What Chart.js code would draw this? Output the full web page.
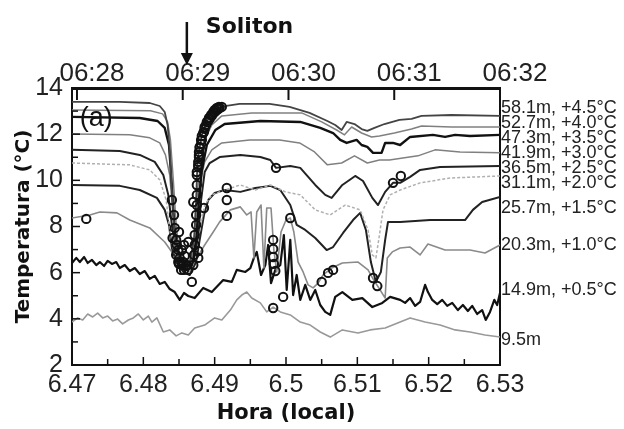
<!DOCTYPE html>
<html><head><meta charset="utf-8">
<script src="https://cdn.jsdelivr.net/npm/chart.js@4.4.1/dist/chart.umd.min.js"></script>
<style>html,body{margin:0;padding:0;background:#fff}canvas{display:block}</style>
</head><body>
<canvas id="c" width="624" height="429"></canvas>
<script>
// ---- axis ticks ----
const xTickVals = [6.47,6.475,6.48,6.485,6.49,6.495,6.5,6.505,6.51,6.515,6.52,6.525,6.53];
const xTickLabels = ['6.47','','6.48','','6.49','','6.5','','6.51','','6.52','','6.53'];
const yTickVals = [2,3,4,5,6,7,8,9,10,11,12,13,14];
const yTickLabels = ['2','','4','','6','','8','','10','','12','','14'];
const topTickVals = [0,1,2,3,4];               // minutes after 06:28
const topTickLabels = ['06:28','06:29','06:30','06:31','06:32'];

// ---- series names (right side) and the temperature they label ----
const seriesNames = ['58.1m, +4.5°C','52.7m, +4.0°C','47.3m, +3.5°C','41.9m, +3.0°C','36.5m, +2.5°C','31.1m, +2.0°C','25.7m, +1.5°C','20.3m, +1.0°C','14.9m, +0.5°C','9.5m'];
const labelTemps = [13.14,12.49,11.84,11.19,10.54,9.89,8.80,7.20,5.25,3.08];

// ---- series data (hour, °C incl. offset) ----
const t58 = [6.470,6.4767,6.4809,6.4823,6.4830,6.4834,6.4837,6.4840,6.4843,6.4847,6.4854,6.4865,6.4871,6.4874,6.4876,6.4882,6.4889,6.4897,6.4907,6.4935,6.4977,6.5005,6.5033,6.5058,6.5069,6.5078,6.5085,6.5096,6.5106,6.5114,6.5124,6.5138,6.5159,6.5176,6.5190,6.5232,6.5300];
const T58 = [13.40,13.40,13.35,13.22,12.96,12.40,11.32,9.58,8.07,6.98,6.46,6.46,7.42,9.15,10.88,11.97,12.62,13.01,13.18,13.31,13.31,13.18,12.92,12.57,12.40,12.18,12.53,12.44,12.22,12.14,12.27,12.44,12.62,12.66,12.79,12.83,12.79];

const t52 = [6.470,6.481,6.4827,6.4834,6.4838,6.4842,6.4846,6.4850,6.4857,6.4867,6.4872,6.4876,6.4881,6.4886,6.4896,6.4910,6.4952,6.4994,6.5022,6.5050,6.5071,6.5082,6.5092,6.5106,6.5120,6.5131,6.5152,6.5176,6.5190,6.5232,6.5300];
const T52 = [13.05,13.01,12.88,12.53,11.75,10.02,8.07,6.98,6.46,6.46,7.63,9.58,10.88,11.75,12.40,12.79,12.92,12.92,12.92,12.53,12.18,11.97,12.31,12.05,11.88,11.92,12.05,12.22,12.35,12.31,12.31];

const t47 = [6.470,6.4795,6.4820,6.4830,6.4836,6.4840,6.4844,6.4850,6.4858,6.4868,6.4874,6.4878,6.4882,6.4889,6.4901,6.4914,6.4964,6.5020,6.5048,6.5066,6.5076,6.5085,6.5099,6.5106,6.5114,6.5122,6.5134,6.5139,6.5150,6.5160,6.5174,6.5206,6.5223,6.5237,6.5258,6.5300];
const T47 = [12.75,12.70,12.57,12.27,11.53,9.80,7.85,6.77,6.33,6.33,7.42,9.15,10.45,11.53,12.18,12.44,12.57,12.53,12.27,12.05,11.75,11.62,11.75,11.53,11.45,11.19,11.19,11.62,11.62,11.53,11.88,11.97,11.88,11.97,11.92,11.97];

const t41 = [6.470,6.4781,6.4809,6.4823,6.4831,6.4837,6.4841,6.4845,6.4851,6.4862,6.4869,6.4875,6.4879,6.4886,6.4896,6.4910,6.4949,6.4991,6.5019,6.5040,6.5058,6.5078,6.5096,6.5114,6.5131,6.5145,6.5185,6.5209,6.5244,6.5300];
const T41 = [12.01,11.97,11.84,11.62,11.10,10.23,8.72,7.20,6.46,6.20,6.77,8.50,9.80,10.80,11.32,11.62,11.75,11.75,11.62,11.23,10.67,10.75,11.06,10.75,10.88,10.88,11.06,11.32,11.23,11.19];

const t36 = [6.470,6.4767,6.4795,6.4816,6.4828,6.4835,6.4840,6.4846,6.4853,6.4863,6.4870,6.4877,6.4881,6.4886,6.4893,6.4907,6.4936,6.4964,6.4978,6.4986,6.5006,6.5020,6.5041,6.5055,6.5064,6.5079,6.5097,6.5108,6.5121,6.5129,6.5139,6.5150,6.5160,6.5174,6.5188,6.5216,6.5300];
const T36 = [11.32,11.27,11.10,10.80,10.23,9.37,8.07,6.98,6.33,6.12,6.46,7.63,9.15,10.36,10.75,11.01,11.10,11.01,10.88,10.54,10.62,10.54,9.80,9.37,9.24,9.80,10.19,9.97,9.24,8.93,9.50,9.89,9.89,10.15,10.45,10.58,10.62];

const t31 = [6.470,6.4781,6.4809,6.4823,6.4832,6.4837,6.4844,6.4854,6.4865,6.4872,6.4879,6.4886,6.4896,6.4914,6.4936,6.4957,6.4978,6.4999,6.5020,6.5041,6.5062,6.5083,6.5104,6.5115,6.5121,6.5126,6.5130,6.5136,6.5146,6.5160,6.5188,6.5230,6.5300];
const T31 = [10.75,10.67,10.45,10.02,9.15,7.85,6.77,6.20,6.03,6.55,7.85,8.93,9.37,9.58,9.80,9.58,9.80,9.50,9.37,8.72,8.50,8.93,8.72,7.85,6.77,6.64,7.42,8.72,9.37,9.58,9.89,10.10,10.19];

const t25 = [6.4700,6.4767,6.4795,6.4819,6.4830,6.4836,6.4840,6.4846,6.4856,6.4865,6.4874,6.4879,6.4885,6.4891,6.4900,6.4914,6.4936,6.4957,6.4978,6.4992,6.5006,6.5015,6.5027,6.5041,6.5057,6.5066,6.5080,6.5094,6.5104,6.5112,6.5119,6.5126,6.5133,6.5139,6.5143,6.5160,6.5202,6.5251,6.5262,6.5275,6.5300];
const T25 = [9.80,9.76,9.58,9.24,8.72,8.07,7.07,6.46,6.03,5.90,6.46,7.42,8.50,9.15,9.45,9.58,9.50,9.67,9.76,9.58,8.93,8.07,7.85,7.50,6.98,7.11,7.72,8.28,8.59,7.85,6.46,5.60,6.03,7.42,8.20,8.20,8.28,8.28,8.72,9.06,9.28];

const t20 = [6.4700,6.4725,6.4739,6.4763,6.4781,6.4809,6.4830,6.4844,6.4854,6.4865,6.4875,6.4886,6.4898,6.4907,6.4922,6.4936,6.4945,6.4951,6.4955,6.4959,6.4965,6.4969,6.4973,6.4979,6.4983,6.4987,6.4993,6.5000,6.5006,6.5011,6.5017,6.5024,6.5031,6.5038,6.5045,6.5052,6.5064,6.5079,6.5101,6.5115,6.5123,6.5132,6.5139,6.5142,6.5149,6.5160,6.5174,6.5188,6.5199,6.5223,6.5258,6.5279,6.5300];
const T20 = [8.37,8.50,8.63,8.59,8.28,7.94,7.33,6.72,6.20,6.03,6.64,7.20,7.76,8.20,8.72,8.85,8.50,8.63,6.64,8.63,8.93,6.20,8.80,8.80,6.98,6.03,7.76,8.28,8.37,7.76,6.46,6.03,5.47,5.34,5.55,5.90,6.20,6.42,6.46,6.12,5.68,5.25,4.90,6.64,6.90,7.07,7.11,6.77,7.24,6.98,6.98,6.85,7.20];

const t14 = [6.4700,6.4706,6.4711,6.4717,6.4722,6.4728,6.4734,6.4739,6.4745,6.4750,6.4756,6.4762,6.4767,6.4774,6.4781,6.4788,6.4795,6.4802,6.4809,6.4816,6.4823,6.4830,6.4837,6.4844,6.4851,6.4857,
  6.4863,6.4872,6.4884,6.4896,6.4912,6.4924,6.4931,6.4943,6.4950,6.4955,6.4959,6.4965,6.4971,6.4975,6.4979,6.4985,6.4992,6.4997,6.5001,6.5006,6.5010,6.5015,6.5020,6.5027,6.5034,6.5041,6.5048,6.5055,6.5062,6.5069,6.5079,6.5093,6.5107,6.5121,6.5135,6.5146,
  6.5160,6.5167,6.5174,6.5181,6.5188,6.5195,6.5199,6.5205,6.5212,6.5219,6.5226,6.5233,6.5241,6.5248,6.5255,6.5261,6.5268,6.5275,6.5280,6.5286,6.5292,6.5296,6.5300];
const T14 = [6.42,6.64,6.46,6.68,6.42,6.55,6.33,6.46,6.29,6.51,6.38,6.46,6.20,6.33,6.07,6.20,5.94,6.07,5.73,5.86,5.51,5.60,5.29,5.16,4.82,5.12,
  4.99,4.90,5.34,5.16,5.68,5.60,6.12,6.03,6.20,6.64,6.90,5.90,6.33,7.20,5.55,6.12,6.33,7.63,5.25,7.42,5.03,5.90,4.82,5.47,4.82,5.25,4.60,4.30,4.17,4.95,5.16,4.82,4.90,4.51,4.69,4.95,
  4.82,4.69,4.90,4.56,4.73,5.47,5.16,4.82,4.64,4.82,4.56,4.69,4.38,4.60,4.34,4.56,4.21,4.38,3.95,4.30,4.82,4.60,5.12];

const t9 = [6.4700,6.4708,6.4715,6.4722,6.4729,6.4736,6.4743,6.4750,6.4757,6.4764,6.4771,6.4779,6.4786,6.4793,6.4800,6.4807,6.4812,6.4819,6.4828,6.4837,6.4846,6.4854,6.4863,6.4872,
  6.4886,6.4900,6.4910,6.4922,6.4931,6.4938,6.4945,6.4952,6.4964,6.4973,6.4982,6.4992,6.5006,6.5020,6.5034,6.5048,6.5062,6.5079,6.5101,6.5118,6.5139,6.5160,6.5174,6.5195,6.5216,6.5237,6.5258,6.5279,6.5300];
const T9 = [3.86,4.04,3.95,4.21,4.08,4.25,4.04,4.12,3.91,3.99,3.78,3.95,4.04,4.21,3.95,4.12,3.86,4.04,3.43,3.52,3.26,3.39,3.30,3.60,
  3.73,4.04,3.95,4.38,4.82,5.03,5.16,4.90,4.69,4.30,4.51,4.30,4.17,3.86,3.73,3.43,3.21,3.52,3.39,3.52,3.60,3.86,4.04,3.86,3.73,3.52,3.43,3.30,3.21];

// ---- circle markers ----
const circT = [6.4720,6.4840,6.4843,6.4844,6.4846,6.4849,6.4851,6.4854,6.4857,6.4860,6.4850,6.4847,6.4853,6.4841,
  6.4846,6.4849,6.4856,6.4858,6.4861,6.4854,6.4857,6.4850,6.4863,
  6.4870,6.4871,6.4872,6.4872,6.4874,6.4874,6.4875,6.4875,6.4875,6.4875,6.4877,6.4878,6.4879,6.4881,6.4884,6.4886,6.4889,6.4892,6.4895,6.4898,6.4900,6.4903,6.4906,
  6.4875,6.4877,6.4877,6.4878,6.4878,6.4879,6.4881,6.4882,6.4882,6.4885,6.4886,6.4888,6.4891,6.4893,6.4896,6.4899,6.4902,6.4905,6.4907,6.4910,
  6.4863,6.4877,6.4877,6.4868,6.4870,6.4885,6.4917,6.4917,6.4917,6.4986,6.5006,6.4982,6.4982,6.4982,6.4983,6.4985,6.4996,6.4982,6.5050,6.5059,6.5066,6.5122,6.5128,6.5150,6.5161];
const circV = [8.33,9.15,8.50,7.94,7.42,6.98,6.64,6.33,6.12,6.29,6.38,7.20,6.12,7.50,
  6.77,6.46,6.46,6.72,6.33,6.98,7.20,7.76,6.12,
  6.33,6.77,7.20,7.63,8.07,8.50,8.93,9.37,9.80,10.23,10.67,11.10,11.45,11.75,12.05,12.31,12.53,12.70,12.83,12.96,13.05,13.14,13.18,
  10.36,10.58,10.80,11.01,11.23,11.40,11.58,11.75,11.92,12.10,12.23,12.40,12.57,12.66,12.79,12.92,13.01,13.09,13.14,13.18,
  7.33,6.94,6.64,5.60,9.06,8.80,9.67,9.15,8.46,10.54,8.37,7.42,7.03,6.68,6.38,6.07,4.95,4.47,5.60,5.99,6.12,5.77,5.42,9.89,10.19];

// ---- annotations ----
const solitonTime = 6.4861;
const panelLabel = '(a)', panelX = 6.4734, panelY = 12.66;

const zip = (xs, ys) => xs.map((x, i) => ({x, y: ys[i]}));
const series = [
  {d: zip(t58, T58), c: '#444', w: 1.8},
  {d: zip(t52, T52), c: '#808080', w: 1.5},
  {d: zip(t47, T47), c: '#111', w: 2.4},
  {d: zip(t41, T41), c: '#808080', w: 1.5},
  {d: zip(t36, T36), c: '#222', w: 2.0},
  {d: zip(t31, T31), c: '#b0b0b0', w: 1.5, dash: [3, 2]},
  {d: zip(t25, T25), c: '#222', w: 2.0},
  {d: zip(t20, T20), c: '#8a8a8a', w: 1.6},
  {d: zip(t14, T14), c: '#111', w: 2.2},
  {d: zip(t9, T9), c: '#999', w: 1.6}
];

const datasets = [{
  type: 'scatter', data: zip(circT, circV), pointRadius: 4.2, pointBorderWidth: 2,
  pointBorderColor: '#111', pointBackgroundColor: 'rgba(0,0,0,0)', showLine: false, order: -1
}].concat(series.map(s => ({
  type: 'line', data: s.d, borderColor: s.c, borderWidth: s.w, borderDash: s.dash || [],
  pointRadius: 0, tension: 0, fill: false, borderJoinStyle: 'round'
})));

const tickFont = {family: '"Liberation Sans", Arial, sans-serif', size: 25, lineHeight: 1};

const decor = {
  id: 'decor',
  afterDraw(chart) {
    const {ctx, chartArea: a, scales: {x, y, xTop}} = chart;
    const line = (x1, y1, x2, y2) => { ctx.beginPath(); ctx.moveTo(x1, y1); ctx.lineTo(x2, y2); ctx.stroke(); };
    ctx.save();
    ctx.strokeStyle = '#111'; ctx.fillStyle = '#111'; ctx.lineWidth = 1.5;
    xTickVals.forEach((v, i) => { const p = x.getPixelForValue(v); line(p, a.bottom, p, a.bottom - (xTickLabels[i] ? 8 : 6)); });
    yTickVals.forEach((v, i) => { const p = y.getPixelForValue(v); line(a.left, p, a.left + (yTickLabels[i] ? 8 : 6), p); });
    ctx.lineWidth = 2;
    topTickVals.forEach(v => { const p = xTop.getPixelForValue(v); line(p, a.top, p, a.top + 12); });
    ctx.font = '27px "Liberation Sans", Arial, sans-serif';
    ctx.textAlign = 'center'; ctx.textBaseline = 'middle';
    ctx.fillText(panelLabel, x.getPixelForValue(panelX), y.getPixelForValue(panelY));
    const ax = x.getPixelForValue(solitonTime);
    ctx.lineWidth = 2.5;
    line(ax, a.top - 66, ax, a.top - 30);
    ctx.beginPath(); ctx.moveTo(ax - 6, a.top - 35); ctx.lineTo(ax + 6, a.top - 35); ctx.lineTo(ax, a.top - 23); ctx.closePath(); ctx.fill();
    ctx.font = 'bold 22px "DejaVu Sans", sans-serif';
    ctx.textAlign = 'left';
    ctx.fillText('Soliton', ax + 19, a.top - 61);
    ctx.restore();
  }
};

new Chart(document.getElementById('c'), {
  data: {datasets},
  options: {
    responsive: false, animation: false, devicePixelRatio: 1,
    layout: {padding: 0},
    plugins: {legend: {display: false}, tooltip: {enabled: false}},
    scales: {
      x: {
        type: 'linear', position: 'bottom', min: 6.47, max: 6.53,
        afterBuildTicks: s => { s.ticks = xTickVals.map(v => ({value: v})); },
        ticks: {autoSkip: false, maxRotation: 0, minRotation: 0, padding: 8, font: tickFont, color: '#222',
                callback: (v, i) => xTickLabels[i]},
        grid: {display: false, drawTicks: false},
        border: {display: true, color: '#111', width: 2},
        title: {display: true, text: 'Hora (local)', color: '#111',
                font: {family: '"DejaVu Sans", sans-serif', size: 21, weight: 'bold', lineHeight: 1.2},
                padding: {top: 0, bottom: 3}},
        afterFit: s => { s.height = 64; }
      },
      xTop: {
        type: 'linear', position: 'top', min: -0.047, max: 4,
        afterBuildTicks: s => { s.ticks = topTickVals.map(v => ({value: v})); },
        ticks: {autoSkip: false, maxRotation: 0, minRotation: 0, padding: 1, labelOffset: 15,
                font: {family: '"Liberation Sans", Arial, sans-serif', size: 26, lineHeight: 1}, color: '#222',
                callback: (v, i) => topTickLabels[i]},
        grid: {display: false, drawTicks: false},
        border: {display: true, color: '#111', width: 3},
        afterFit: s => { s.height = 88; }
      },
      y: {
        type: 'linear', position: 'left', min: 2, max: 14,
        afterBuildTicks: s => { s.ticks = yTickVals.map(v => ({value: v})); },
        ticks: {autoSkip: false, padding: 9, font: tickFont, color: '#222', callback: (v, i) => yTickLabels[i]},
        grid: {display: false, drawTicks: false},
        border: {display: true, color: '#111', width: 2},
        title: {display: true, text: 'Temperatura (°C)', color: '#111',
                font: {family: '"DejaVu Sans", sans-serif', size: 20, weight: 'bold', lineHeight: 1.2},
                padding: {top: 12, bottom: 0}},
        afterFit: s => { s.width = 72; }
      },
      yR: {
        type: 'linear', position: 'right', min: 2, max: 14,
        afterBuildTicks: s => { s.ticks = labelTemps.map(v => ({value: v})); },
        ticks: {autoSkip: false, padding: 1, font: {family: '"Liberation Sans", Arial, sans-serif', size: 18, lineHeight: 1},
                color: '#222', callback: (v, i) => seriesNames[i]},
        grid: {display: false, drawTicks: false},
        border: {display: true, color: '#111', width: 2},
        afterFit: s => { s.width = 124; }
      }
    }
  },
  plugins: [decor]
});
</script>
</body></html>
